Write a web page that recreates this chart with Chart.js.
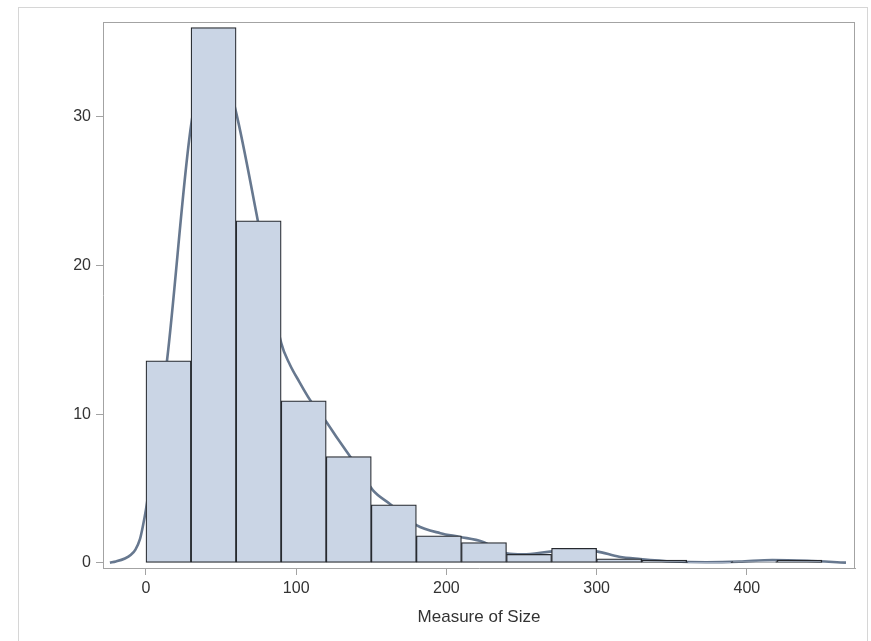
<!DOCTYPE html>
<html>
<head>
<meta charset="utf-8">
<title>Measure of Size</title>
<script src="https://cdn.jsdelivr.net/npm/chart.js@4/dist/chart.umd.min.js"></script>
<style>
  html, body { margin: 0; padding: 0; background: #fff; }
  #wrap { position: relative; width: 871px; height: 641px; }
</style>
</head>
<body>
<div id="wrap"><canvas id="histCanvas" width="871" height="641"></canvas></div>
<script>
// histogram bins (midpoints, width 30) and their percentages
var binMids = [15, 45, 75, 105, 135, 165, 195, 225, 255, 285, 315, 345, 375, 405, 435];
var binPct = [13.6, 36.0, 23.0, 10.9, 7.15, 3.9, 1.82, 1.37, 0.58, 0.99, 0.27, 0.2, 0.05, 0.1, 0.2];

// kernel density curve
var kdeX = [-24, -20, -14, -10, -7, -4, -2, 0, 14, 30, 45, 60, 74.5, 90, 96, 102, 109, 120, 128, 136,
            144, 151, 162, 172, 180, 196, 209, 224, 240, 251, 269, 285, 300, 315, 329, 351, 373, 395, 417, 440, 466];
var kdeY = [0.02, 0.1, 0.3, 0.55, 0.9, 1.6, 2.5, 3.6, 13.6, 29.4, 35.5, 30.3, 23, 14.8, 13.3, 12.2, 11.0, 9.5, 8.3, 7.15,
            6.0, 4.9, 4.0, 3.2, 2.55, 2.0, 1.75, 1.43, 0.65, 0.58, 0.76, 0.9, 0.78, 0.42, 0.27, 0.1, 0.05, 0.09, 0.2, 0.15, 0.02];

var xTicks = [0, 100, 200, 300, 400];
var yTicks = [0, 10, 20, 30];

var axisGray = '#a3a3a3';
var textGray = '#333333';
var fontFam = "'Liberation Sans', Arial, sans-serif";

// frame round the plot area and light border round the whole graph
var framePlugin = {
  id: 'frame',
  beforeDraw: function(chart) {
    var c = chart.ctx;
    c.save();
    c.strokeStyle = '#d6d6d6';
    c.lineWidth = 1;
    c.strokeRect(18.5, 7.5, 849, 640);
    c.restore();
  },
  afterDraw: function(chart) {
    var a = chart.chartArea, c = chart.ctx;
    c.save();
    c.strokeStyle = axisGray;
    c.lineWidth = 1;
    c.beginPath();
    c.moveTo(a.left, a.top + 0.5);
    c.lineTo(a.right, a.top + 0.5);
    c.moveTo(a.right - 0.5, a.top);
    c.lineTo(a.right - 0.5, a.bottom);
    c.stroke();
    c.restore();
  }
};

var bars = binMids.map(function(m, i) { return {x: m, y: binPct[i]}; });
var curve = kdeX.map(function(v, i) { return {x: v, y: kdeY[i]}; });

var config = {
  type: 'bar',
  data: {
    datasets: [{
      type: 'bar',
      label: 'Percent',
      data: bars,
      backgroundColor: '#cad5e5',
      borderColor: '#26292e',
      borderWidth: 1.25,
      borderSkipped: false,
      barPercentage: 1,
      categoryPercentage: 1,
      order: 0
    }, {
      type: 'line',
      label: 'Kernel',
      data: curve,
      borderColor: '#67788f',
      borderWidth: 2.6,
      pointRadius: 0,
      fill: false,
      cubicInterpolationMode: 'monotone',
      order: 1
    }]
  },
  plugins: [framePlugin],
  options: {
    responsive: false,
    animation: false,
    devicePixelRatio: 1,
    layout: { padding: { left: 0, top: 22, right: 16, bottom: 0 } },
    plugins: { legend: { display: false }, tooltip: { enabled: false } },
    scales: {
      x: {
        type: 'linear',
        offset: false,
        min: -28.6,
        max: 472,
        afterBuildTicks: function(s) { s.ticks = xTicks.map(function(v) { return {value: v}; }); },
        afterFit: function(s) { s.height = 73; },
        grid: { offset: false, drawOnChartArea: false, tickLength: 7, color: axisGray },
        border: { display: true, color: axisGray },
        ticks: { color: textGray, padding: 4, maxRotation: 0, font: { family: fontFam, size: 16 } },
        title: {
          display: true,
          text: 'Measure of Size',
          color: textGray,
          padding: { top: 0, bottom: 13 },
          font: { family: fontFam, size: 17 }
        }
      },
      y: {
        min: -0.34,
        max: 36.38,
        afterBuildTicks: function(s) { s.ticks = yTicks.map(function(v) { return {value: v}; }); },
        afterFit: function(s) { s.width = 103; },
        grid: { drawOnChartArea: false, tickLength: 7, color: axisGray },
        border: { display: true, color: axisGray },
        ticks: { color: textGray, padding: 5, font: { family: fontFam, size: 16 } }
      }
    }
  }
};

var ctx = document.getElementById('histCanvas').getContext('2d');
window.histChart = new Chart(ctx, config);
</script>
</body>
</html>
